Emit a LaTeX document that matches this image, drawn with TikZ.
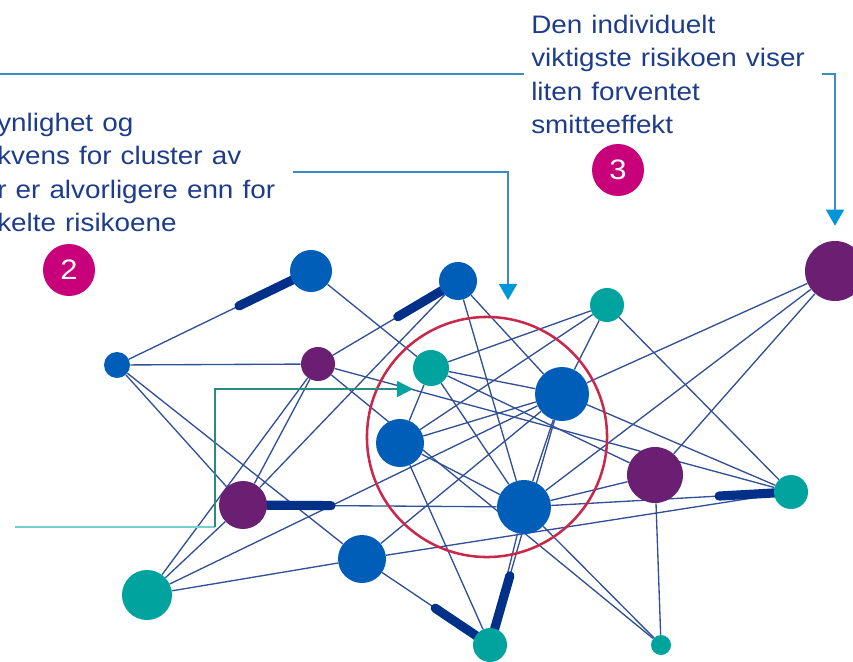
\documentclass[tikz,border=0pt]{standalone}
\usepackage{fontspec}
\setmainfont{Liberation Sans}[FakeStretch=1.1]
\usetikzlibrary{positioning,calc,backgrounds,arrows.meta}
\definecolor{riskblue}{RGB}{0,94,184}
\definecolor{riskpurple}{RGB}{106,31,115}
\definecolor{riskteal}{RGB}{0,163,158}
\definecolor{linkblue}{RGB}{50,80,150}
\definecolor{barblue}{RGB}{0,48,135}
\definecolor{ringred}{RGB}{200,40,75}
\definecolor{textblue}{RGB}{30,60,140}
\definecolor{badgepink}{RGB}{200,0,122}
\definecolor{calloutblue}{RGB}{60,140,195}
\definecolor{arrowblue}{RGB}{0,150,215}
\definecolor{lightteal}{RGB}{120,205,205}
\definecolor{darkteal}{RGB}{40,140,130}
\newcommand\notefont{\fontsize{18}{23.7}\selectfont\spaceskip=0.36em plus 0.1em\relax}

\begin{document}
\begin{tikzpicture}[x=0.025cm, y=-0.025cm,
  risk/.style={circle, inner sep=0pt},
  link/.style={draw=linkblue, line width=0.95pt},
  bar/.style={draw=barblue, line width=6.5pt, line cap=round},
  callline/.style={draw=calloutblue, line width=1pt},
  calltip/.style={-{Triangle[width=0.45cm,length=0.4cm,color=arrowblue]}},
  note/.style={anchor=north west, inner sep=0pt, align=left, text=textblue, font=\notefont},
  badge/.style={circle, fill=badgepink, text=white, minimum size=1.3cm, inner sep=0pt, font=\fontsize{20}{24}\selectfont}]
  \useasboundingbox (0,0) rectangle (853,662);
  \clip (0,0) rectangle (853,662);

  \node[note] (t1) at (-3,113) {ynlighet og\\kvens for cluster av\\r er alvorligere enn for\\kelte risikoene};
  \node[note] (t2) at (531,15) {Den individuelt\\viktigste risikoen viser\\liten forventet\\smitteeffekt};
  \node[badge] (b2) at (69,270) {2};
  \node[badge] (b3) at (618,170) {3};

  \node[circle, draw=ringred, line width=1.8pt, minimum size=6cm] (ring) at (487,437) {};

  \node[risk, fill=riskblue, minimum size=0.65cm] (r1) at (117,365) {};
  \node[risk, fill=riskblue, minimum size=1.05cm] (r2) at (311,271) {};
  \node[risk, fill=riskblue, minimum size=0.95cm] (r3) at (458,281) {};
  \node[risk, fill=riskpurple, minimum size=0.85cm] (r4) at (318,364) {};
  \node[risk, fill=riskteal, minimum size=0.9cm] (r5) at (431,368) {};
  \node[risk, fill=riskteal, minimum size=0.85cm] (r6) at (607,305) {};
  \node[risk, fill=riskblue, minimum size=1.35cm] (r7) at (562,394) {};
  \node[risk, fill=riskblue, minimum size=1.2cm] (r8) at (400,443) {};
  \node[risk, fill=riskpurple, minimum size=1.2cm] (r9) at (243,505) {};
  \node[risk, fill=riskblue, minimum size=1.35cm] (r10) at (524,507) {};
  \node[risk, fill=riskpurple, minimum size=1.4cm] (r11) at (655,475) {};
  \node[risk, fill=riskteal, minimum size=0.85cm] (r12) at (791,492) {};
  \node[risk, fill=riskblue, minimum size=1.2cm] (r13) at (362,559) {};
  \node[risk, fill=riskteal, minimum size=1.25cm] (r14) at (147,595) {};
  \node[risk, fill=riskteal, minimum size=0.85cm] (r15) at (490,645) {};
  \node[risk, fill=riskteal, minimum size=0.5cm] (r16) at (661,645) {};
  \node[risk, fill=riskpurple, minimum size=1.5cm] (r17) at (835,271) {};

  \coordinate (k1) at (0,74);
  \coordinate (k2) at (524,74);
  \coordinate (k3) at (822,74);
  \coordinate (k4) at (293,172);
  \coordinate (k5) at (508,300);
  \coordinate (k6) at (15,527);
  \coordinate (k7) at (215,527);
  \coordinate (k8) at (413,389);
  \draw[callline] (k1) -- (k2);
  \draw[callline, calltip] (k3) -| ([yshift=0.375cm]r17.north);
  \draw[callline, calltip] (k4) -| (k5);
  \draw[draw=lightteal, line width=1.2pt] (k6) -- (k7);
  \draw[draw=darkteal, line width=1pt, -{Triangle[width=0.4cm,length=0.4cm,color=riskteal]}] (k7) |- (k8);

  \begin{scope}[on background layer]
    \foreach \a/\b in {r1/r2, r1/r4, r1/r9, r1/r13, r2/r5, r3/r4, r3/r9, r3/r10, r3/r7,
      r4/r12, r4/r9, r4/r14, r4/r16, r5/r6, r5/r7, r5/r11, r5/r8, r5/r10,
      r6/r8, r6/r7, r6/r12, r7/r17, r7/r12, r7/r8, r7/r10, r7/r14, r7/r13, r7/r15,
      r8/r10, r8/r15, r9/r10, r10/r11, r10/r17, r10/r16, r10/r15, r10/r12,
      r11/r17, r11/r16, r12/r13, r14/r9, r14/r13, r13/r15}
      \draw[link] (\a) -- (\b);
    \foreach \a/\b/\len in {r2/r1/2.0, r3/r4/1.75, r9/r10/2.2, r12/r10/1.8, r15/r7/1.8, r15/r13/1.65}
      \draw[bar] (\a.center) -- ($(\a)!\len cm!(\b)$);
  \end{scope}
\end{tikzpicture}
\end{document}
